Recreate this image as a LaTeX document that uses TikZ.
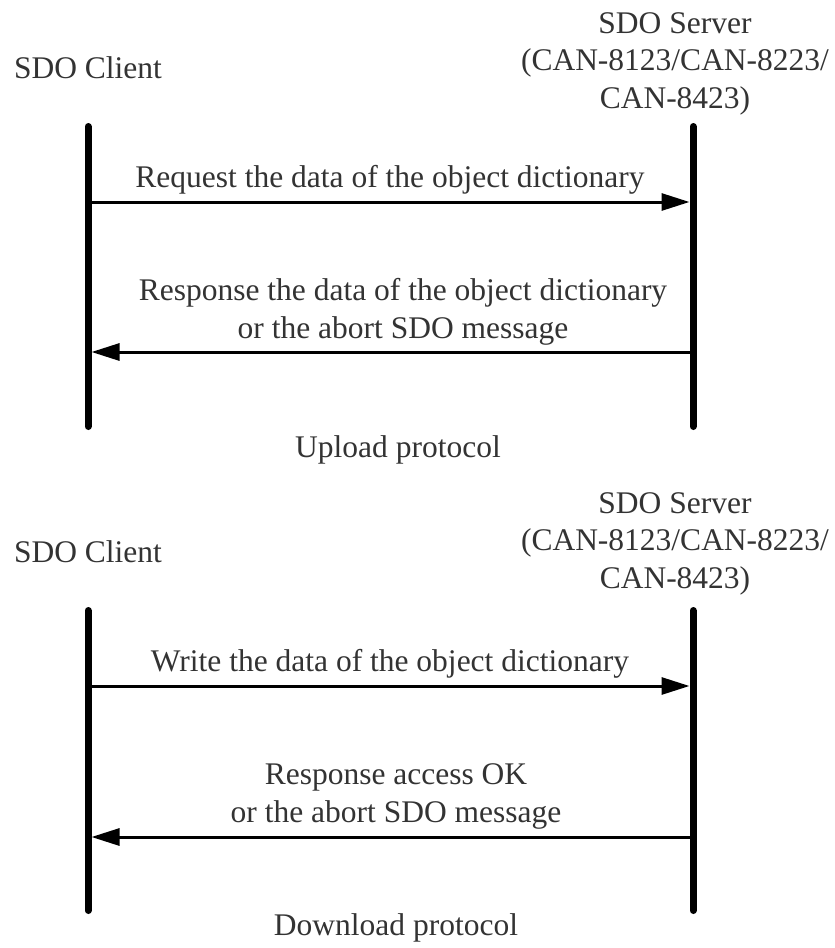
\documentclass[tikz,border=0pt]{standalone}
\usepackage{fontspec}
\setmainfont{Liberation Serif}
\usetikzlibrary{arrows.meta}
\begin{document}
\begin{tikzpicture}[x=1pt,y=-1pt,
  txt/.style={font=\fontsize{31.5}{37.5}\selectfont, text=black!80, inner sep=0pt, anchor=base, align=center},
  lifeline/.style={line width=7pt, line cap=round, black},
  msg/.style={line width=3pt, black, -{Triangle[length=28pt,width=17pt]}, shorten >=3.5pt}]
\useasboundingbox (0,0) rectangle (835,948);

% ---------- Upload protocol ----------
\node[txt] (client1) at (88,78) {SDO Client};
\node[txt] (server1) at (675,108) {SDO Server\\(CAN-8123/CAN-8223/\\CAN-8423)};
\coordinate (c1t) at (88,126.5);
\coordinate (c1b) at (88,426.5);
\coordinate (s1t) at (693,126.5);
\coordinate (s1b) at (693,426.5);
\draw[lifeline] (c1t) -- (c1b);
\draw[lifeline] (s1t) -- (s1b);
\coordinate (m1l) at (88,202);
\coordinate (m1r) at (693,202);
\coordinate (m2l) at (88,352);
\coordinate (m2r) at (693,352);
\draw[msg] (m1l) -- (m1r);
\draw[msg] (m2r) -- (m2l);
\node[txt] (req) at (390,187) {Request the data of the object dictionary};
\node[txt] (resp1) at (403,338) {Response the data of the object dictionary\\or the abort SDO message};
\node[txt] (upl) at (398,457) {Upload protocol};

% ---------- Download protocol ----------
\node[txt] (client2) at (88,562) {SDO Client};
\node[txt] (server2) at (675,588) {SDO Server\\(CAN-8123/CAN-8223/\\CAN-8423)};
\coordinate (c2t) at (88,610.5);
\coordinate (c2b) at (88,910.5);
\coordinate (s2t) at (693,610.5);
\coordinate (s2b) at (693,910.5);
\draw[lifeline] (c2t) -- (c2b);
\draw[lifeline] (s2t) -- (s2b);
\coordinate (m3l) at (88,686);
\coordinate (m3r) at (693,686);
\coordinate (m4l) at (88,837);
\coordinate (m4r) at (693,837);
\draw[msg] (m3l) -- (m3r);
\draw[msg] (m4r) -- (m4l);
\node[txt] (wrt) at (390,671) {Write the data of the object dictionary};
\node[txt] (resp2) at (396,822) {Response access OK\\or the abort SDO message};
\node[txt] (dnl) at (396,935) {Download protocol};
\end{tikzpicture}
\end{document}
